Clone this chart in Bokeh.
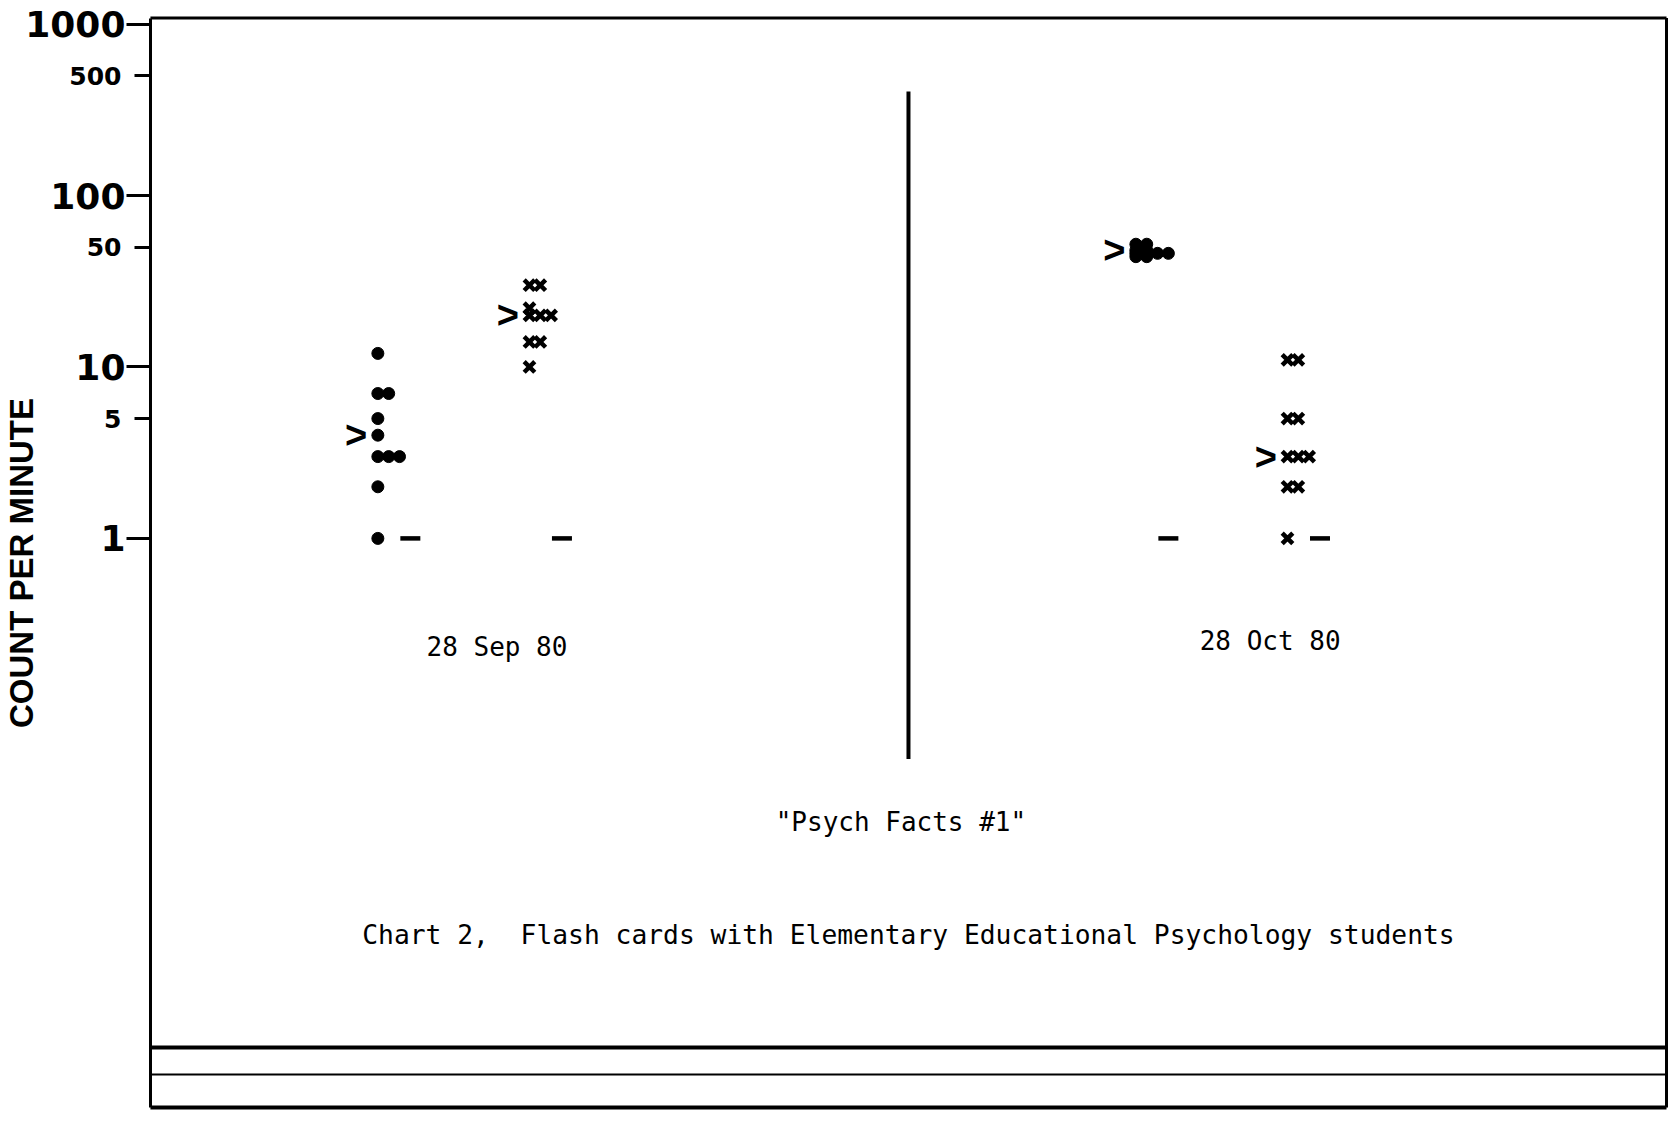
from bokeh.plotting import figure
from bokeh.models import (LogAxis, FixedTicker, PrintfTickFormatter, Title,
                          ColumnDataSource, Range1d)
from bokeh.core.properties import value
from bokeh.embed import file_html
from bokeh.resources import INLINE

# ---------------- data ----------------
SESSION_DATES = ["28 Sep 80", "28 Oct 80"]
CORRECT_DAYS = [21, 91]          # chart day where each session's corrects are charted
ERROR_DAYS = [35, 105]           # chart day where each session's errors are charted
SEP_CORRECTS = [12, 7, 7, 5, 4, 3, 3, 3, 2, 1]
SEP_ERRORS = [30, 30, 22, 20, 20, 20, 14, 14, 10]
OCT_CORRECTS = [52, 52, 48, 48, 46, 46, 46, 46, 44, 44]
OCT_ERRORS = [11, 11, 5, 5, 3, 3, 3, 2, 2, 1]
MEDIAN_CORRECTS = [4, 48]
MEDIAN_ERRORS = [20, 3]
RECORD_FLOOR = [1, 1]            # 1-minute timings
Y_MAJOR_TICKS = [1, 10, 100, 1000]
Y_MINOR_TICKS = [5, 50, 500]
PHASE_CHANGE_DAY = 70
PHASE_LINE_SPAN = [0.0516, 404]
Y_LABEL = "COUNT PER MINUTE"
TASK_TEXT = '"Psych Facts #1"'
CAPTION = "Chart 2,\u00a0 Flash cards with Elementary Educational Psychology students"

# ---------------- layout constants ----------------
W, H = 1680, 1125
CHART_DAYS = (0, 140)
FRAME_LEFT = 20
X_VIEW = (-12.0, 140.277)
Y_VIEW_LOG = (-3.4247, 3.1377)
TOP_LOG = 3.035                  # top edge of the chart grid
FOOTER_LOGS = [-2.97, -3.127, -3.32]
FOOTER_WIDTHS = [4, 2, 4]
STEP = 1.0          # side-by-side offset (days) for equal values
FLOOR_SHIFT = 3     # record-floor dash to the right of the column
MEDIAN_SHIFT = -2   # median chevron to the left of the column
MONO = value("DejaVu Sans Mono")


def side_by_side(day, values, step):
    seen = {}
    xs = []
    for v in values:
        k = seen.get(v, 0)
        xs.append(day + k * step)
        seen[v] = k + 1
    return xs


p = figure(width=W, height=H, output_backend="svg", toolbar_location=None,
           x_range=Range1d(*X_VIEW),
           y_range=Range1d(10 ** Y_VIEW_LOG[0], 10 ** Y_VIEW_LOG[1]),
           y_axis_type="log", x_axis_location=None, y_axis_location=None,
           min_border_left=FRAME_LEFT, min_border_right=11,
           min_border_top=0, min_border_bottom=0,
           background_fill_color="white", border_fill_color="white",
           outline_line_color=None)
p.grid.grid_line_color = None

top = 10 ** TOP_LOG
bottom = 10 ** FOOTER_LOGS[-1]

# vertical axis title
p.add_layout(Title(text=Y_LABEL, align="center", text_font="Liberation Sans",
                   text_font_size="33px", text_font_style="bold",
                   text_color="black", standoff=-39, offset=0), "left")

# main y axis: 1, 10, 100, 1000
big = LogAxis(ticker=FixedTicker(ticks=Y_MAJOR_TICKS),
              formatter=PrintfTickFormatter(format="%d"),
              fixed_location=CHART_DAYS[0], bounds=(bottom, top),
              major_tick_out=24, major_tick_in=0, major_tick_line_width=3,
              major_tick_line_color="black", minor_tick_line_color=None,
              axis_line_width=3, axis_line_color="black",
              major_label_standoff=1,
              major_label_text_font="DejaVu Sans",
              major_label_text_font_style="bold",
              major_label_text_font_size="36px",
              major_label_text_color="black")
p.add_layout(big, "left")

# secondary labels 5, 50, 500 (smaller)
small = LogAxis(ticker=FixedTicker(ticks=Y_MINOR_TICKS),
                formatter=PrintfTickFormatter(format="%d"),
                fixed_location=CHART_DAYS[0], bounds=(bottom, top),
                major_tick_out=16, major_tick_in=0, major_tick_line_width=3,
                major_tick_line_color="black",
                minor_tick_line_color=None, axis_line_color=None,
                major_label_standoff=13,
                major_label_text_font="DejaVu Sans",
                major_label_text_font_style="bold",
                major_label_text_font_size="25px",
                major_label_text_color="black")
p.add_layout(small, "left")

# chart frame: top edge, right edge and footer lines
p.segment(x0=[CHART_DAYS[0]], y0=[top], x1=[CHART_DAYS[1]], y1=[top],
          line_color="black", line_width=3)
p.segment(x0=[CHART_DAYS[1]], y0=[bottom], x1=[CHART_DAYS[1]], y1=[top],
          line_color="black", line_width=3)
for lg, lw in zip(FOOTER_LOGS, FOOTER_WIDTHS):
    p.segment(x0=[CHART_DAYS[0]], y0=[10 ** lg], x1=[CHART_DAYS[1]], y1=[10 ** lg],
              line_color="black", line_width=lw)

# phase change line
p.segment(x0=[PHASE_CHANGE_DAY], y0=[PHASE_LINE_SPAN[0]],
          x1=[PHASE_CHANGE_DAY], y1=[PHASE_LINE_SPAN[1]],
          line_color="black", line_width=4)

# corrects (dots)
cx, cy = [], []
for day, vals in zip(CORRECT_DAYS, [SEP_CORRECTS, OCT_CORRECTS]):
    cx += side_by_side(day, vals, STEP)
    cy += vals
p.scatter(x="x", y="y", source=ColumnDataSource(dict(x=cx, y=cy)),
          marker="circle", size=12, fill_color="black", line_color="black")

# errors (x)
ex, ey = [], []
for day, vals in zip(ERROR_DAYS, [SEP_ERRORS, OCT_ERRORS]):
    ex += side_by_side(day, vals, STEP)
    ey += vals
p.scatter(x="x", y="y", source=ColumnDataSource(dict(x=ex, y=ey)),
          marker="x", size=15, line_color="black", line_width=4.5)

# record floors
fx = [d + FLOOR_SHIFT for d in CORRECT_DAYS] + [d + FLOOR_SHIFT for d in ERROR_DAYS]
fy = RECORD_FLOOR + RECORD_FLOOR
p.scatter(x=fx, y=fy, marker="dash", size=20, line_color="black", line_width=4.5)

# medians (chevrons)
mx = [d + MEDIAN_SHIFT for d in CORRECT_DAYS] + [d + MEDIAN_SHIFT for d in ERROR_DAYS]
my = MEDIAN_CORRECTS + MEDIAN_ERRORS
p.text(x=mx, y=my, text=[">"] * len(mx), text_font=value("Liberation Sans"),
       text_font_style="bold", text_font_size="38px", text_color="black",
       text_align="center", text_baseline="middle")

# session dates
p.text(x=[32.0, 103.4], y=[0.231, 0.251], text=SESSION_DATES, text_font=MONO,
       text_font_size="26px", text_color="black", text_align="center",
       text_baseline="middle")

# task name and caption
p.text(x=[69.3], y=[0.0221], text=[TASK_TEXT], text_font=MONO,
       text_font_size="26px", text_color="black", text_align="center",
       text_baseline="middle")
p.text(x=[70.0], y=[0.00489], text=[CAPTION], text_font=MONO,
       text_font_size="26.3px", text_color="black", text_align="center",
       text_baseline="middle")

open("out.html", "w").write(file_html(p, INLINE))
